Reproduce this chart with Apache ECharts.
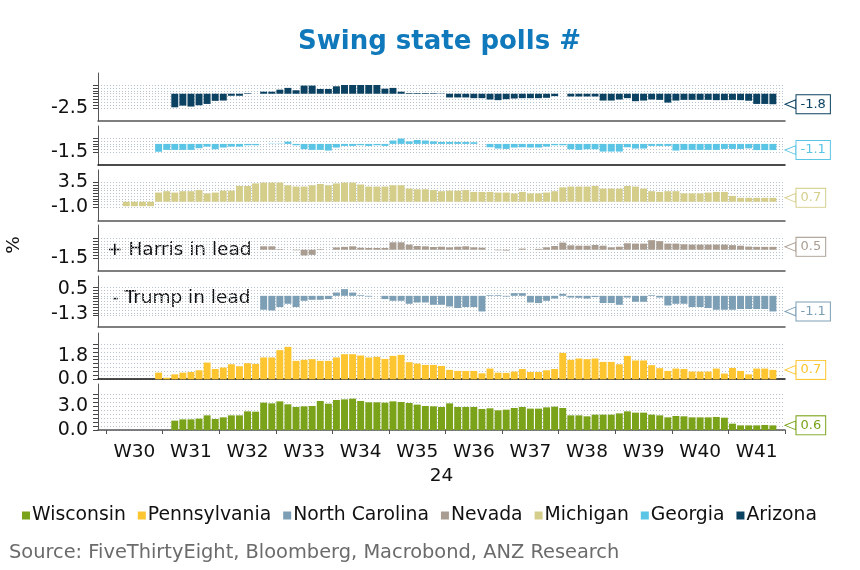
<!DOCTYPE html>
<html><head><meta charset="utf-8">
<script src="https://cdn.jsdelivr.net/npm/echarts@6/dist/echarts.min.js"></script>
<style>html,body{margin:0;padding:0;background:#fff}#c{width:860px;height:570px}</style>
</head><body><div id="c"></div>
<script>
// ---- categories: one per day, Sun 21 Jul 2024 .. Sun 13 Oct 2024 (ISO weeks 29-41)
const days = [];
for (let i = 0; i < 85; i++) {
  const d = new Date(2024, 6, 21 + i);
  days.push(d.getFullYear() + '-' + String(d.getMonth() + 1).padStart(2, '0') + '-' + String(d.getDate()).padStart(2, '0'));
}
const weekLabels = ['W30','W31','W32','W33','W34','W35','W36','W37','W38','W39','W40','W41'];
const yearLabel = '24';

// ---- series values (Harris minus Trump, %pts), one per day, null = no value
const arizona = [null,null,null,null,null,null,null,null,null,-2.33,
 -2.04,-2.2,-1.98,-1.75,-1.22,-1.17,-0.35,-0.35,0.1,0,
 0.35,0.35,0.7,1.0,0.6,1.4,1.4,0.82,0.82,1.28,
 1.55,1.55,1.5,1.5,1.5,0.87,1.0,0.35,0.12,0.12,
 0.12,0.1,0.05,-0.64,-0.64,-0.64,-0.76,-0.76,-0.99,-1.1,
 -0.93,-0.82,-0.76,-0.76,-0.76,-0.7,-0.41,0,-0.47,-0.47,
 -0.47,-0.47,-1.17,-1.17,-0.99,-0.76,-1.28,-1.17,-0.99,-1.05,
 -1.52,-1.17,-1.05,-1.05,-1.05,-1.05,-1.1,-1.1,-1.05,-1.1,
 -1.2,-1.75,-1.75,-1.8,null];
const georgia = [null,null,null,null,null,null,null,-1.4,-1.07,-1.07,
 -1.07,-1.07,-0.77,-0.48,-0.95,-0.65,-0.48,-0.48,-0.24,-0.24,
 0,0.05,0.05,0.4,-0.24,-0.95,-1.07,-1.07,-1.19,-0.65,
 -0.36,-0.36,-0.24,-0.36,-0.24,-0.36,0.6,0.95,0.45,0.7,
 0.6,0.45,0.35,0.35,0.35,0.35,0.3,0,-0.6,-0.83,
 -0.9,-0.65,-0.6,-0.65,-0.65,-0.48,-0.24,-0.24,-0.95,-1.07,
 -0.95,-0.95,-1.37,-1.37,-1.37,-0.6,-0.83,-0.83,-0.36,-0.36,
 -0.36,-1.19,-1.07,-1.07,-1.07,-1.07,-1.07,-0.9,-0.9,-0.9,
 -0.8,-1.1,-1.1,-1.1,null];
const michigan = [null,null,null,-0.8,-0.8,-0.8,-0.8,1.65,1.9,1.65,
 1.9,1.9,2.1,1.5,1.65,2.0,2.0,2.85,2.85,3.3,
 3.45,3.45,3.45,2.97,2.73,2.73,2.97,3.2,2.97,3.3,
 3.45,3.45,3.1,2.73,2.73,2.73,2.97,2.97,2.37,2.25,
 2.25,2.1,1.9,2.0,2.0,2.1,1.77,1.77,1.77,1.65,
 1.65,1.5,1.77,1.5,1.5,1.65,1.9,2.6,2.73,2.73,
 2.73,2.85,2.37,2.37,2.37,2.85,2.73,2.37,1.9,1.77,
 1.9,1.9,1.5,1.5,1.5,1.65,1.77,1.77,1.05,0.7,
 0.7,0.7,0.7,0.7,null];
const nevada = [null,null,null,null,null,null,null,null,null,null,
 null,null,null,null,null,null,null,null,null,null,
 0.6,0.6,0.1,0,-0.1,-1.0,-0.9,0.1,0,0.4,
 0.5,0.6,0.35,0.3,0.3,0.3,1.3,1.3,0.9,0.65,
 0.6,0.48,0.53,0.42,0.53,0.6,0.42,0.36,0,-0.1,
 -0.15,0,0.2,0,0.15,0.42,0.65,1.25,0.77,0.7,
 0.7,0.83,0.7,0.42,0.53,1.13,1.07,1.07,1.67,1.5,
 1.07,1.07,0.95,0.9,0.9,0.9,0.9,0.9,0.8,0.7,
 0.55,0.5,0.5,0.5,null];
const northCarolina = [null,null,null,null,null,null,null,null,null,null,
 null,null,null,null,null,null,null,null,null,null,
 -0.98,-1.03,-0.79,-0.56,-0.79,-0.35,-0.28,-0.28,-0.23,0.23,
 0.47,0.23,0.05,-0.05,0,-0.23,-0.35,-0.35,-0.56,-0.47,
 -0.47,-0.63,-0.63,-0.75,-0.86,-0.79,-0.79,-1.1,0.05,0.05,
 -0.05,0.19,0.19,-0.47,-0.51,-0.35,-0.19,0.14,-0.12,-0.14,
 -0.19,-0.09,-0.51,-0.51,-0.63,-0.12,-0.42,-0.42,0.05,-0.12,
 -0.68,-0.56,-0.56,-0.79,-0.79,-0.86,-0.98,-0.98,-0.98,-0.93,
 -0.93,-0.93,-0.93,-1.1,null];
const pennsylvania = [null,null,null,null,null,null,null,0.51,0.12,0.38,
 0.51,0.56,0.69,1.28,0.79,0.9,1.15,1.0,1.23,1.18,
 1.67,1.67,2.23,2.48,1.41,1.49,1.54,1.41,1.41,1.67,
 1.92,1.92,1.82,1.67,1.72,1.56,1.79,1.87,1.31,1.2,
 1.1,1.1,1.02,0.72,0.64,0.64,0.64,0.46,0.82,0.51,
 0.49,0.59,0.79,0.56,0.56,0.69,0.79,2.02,1.49,1.59,
 1.54,1.59,1.33,1.33,1.15,1.79,1.44,1.44,1.08,0.85,
 0.64,0.82,0.79,0.59,0.59,0.59,0.82,0.44,0.87,0.64,
 0.38,0.82,0.82,0.72,null];
const wisconsin = [null,null,null,null,null,null,null,null,null,1.17,
 1.33,1.33,1.42,1.83,1.38,1.58,1.83,1.83,2.33,2.29,
 3.42,3.33,3.58,3.21,2.88,2.96,3.0,3.63,3.29,3.75,
 3.83,3.92,3.63,3.46,3.46,3.42,3.58,3.5,3.38,3.17,
 3.0,2.96,2.88,3.33,2.88,2.88,2.88,2.63,2.71,2.46,
 2.54,2.75,2.88,2.67,2.67,2.83,2.92,2.75,1.83,1.83,
 1.71,1.92,1.92,1.92,2.08,2.33,2.17,2.17,1.92,1.83,
 1.58,1.75,1.71,1.58,1.58,1.58,1.63,1.54,0.79,0.58,
 0.58,0.58,0.63,0.58,null];

// ---- per-panel y scales (min, max, grid step) and the tick labels shown
const panelNames  = ['Arizona','Georgia','Michigan','Nevada','North Carolina','Pennsylvania','Wisconsin'];
const panelData   = [arizona, georgia, michigan, nevada, northCarolina, pennsylvania, wisconsin];
const yMin        = [-2.5, -1.5, -1.0, -1.5, -1.4, 0.0, 0.0];
const yMax        = [ 1.5,  1.0,  3.5,  2.0,  0.6, 2.7, 4.5];
const yStep       = [ 0.5,  0.5,  0.5,  0.5,  0.2, 0.3, 0.5];
const yTickLabels = [[-2.5], [-1.5], [-1.0, 3.5], [-1.5], [-1.3, 0.5], [0.0, 1.8], [0.0, 3.0]];

// ---- styling / layout (not data)
const colors = ['#0b4161','#5bc5e6','#d5ce8b','#a99d91','#7c9fb5','#fdc52f','#7aa31a'];
const outerTop = [73, 126, 170, 225, 276, 333, 384];
const outerH   = [48, 39, 51, 46, 51, 46, 46];
const innerTop = [85, 138.3, 182.3, 238.3, 287.3, 344, 394];
const innerH   = [23.3, 14, 25, 20, 28.4, 35.3, 36];
const FONT = 'DejaVu Sans';
const LEFT = 98, RIGHT = 75;

const grid = [], xAxis = [], yAxis = [], series = [];
for (let k = 0; k < 7; k++) {
  grid.push({ left: LEFT, right: RIGHT, top: innerTop[k], height: innerH[k], outerBoundsMode: 'none' });
}
for (let k = 0; k < 7; k++) {
  grid.push({ left: LEFT, right: RIGHT, top: outerTop[k], height: outerH[k], outerBoundsMode: 'none' });
}
for (let k = 0; k < 7; k++) {
  xAxis.push({ gridIndex: k, type: 'category', data: days, show: false });
  yAxis.push({
    gridIndex: k, type: 'value', min: yMin[k], max: yMax[k], interval: yStep[k],
    axisLine: { show: false },
    axisTick: { show: true, length: 5, lineStyle: { color: '#444', width: 1 } },
    axisLabel: { customValues: yTickLabels[k], formatter: v => v.toFixed(1), fontSize: 19, color: '#111', margin: 10, fontFamily: FONT },
    splitLine: { show: true, lineStyle: { type: [1, 2], color: '#b7c3cf', width: 1 } }
  });
}
for (let k = 0; k < 7; k++) {
  const bottom = k === 6;
  xAxis.push({
    gridIndex: 7 + k, type: 'category', data: days,
    axisLine: { show: true, onZero: false, lineStyle: { color: (k === 1 || k === 5) ? '#111' : '#555', width: 1.5 } },
    axisTick: bottom ? { show: true, length: 4, interval: (i) => i % 7 === 1, lineStyle: { color: '#555' } } : { show: false },
    axisLabel: bottom ? {
      show: true, interval: (i) => i % 7 === 4, margin: 13, fontSize: 18.5, color: '#111', fontFamily: FONT,
      formatter: (v, i) => weekLabels[Math.floor((i - 1) / 7)]
    } : { show: false },
    splitLine: { show: false },
    name: bottom ? yearLabel : '', nameLocation: 'middle', nameGap: 37,
    nameTextStyle: { fontSize: 18.5, color: '#111', fontFamily: FONT }
  });
  yAxis.push({
    gridIndex: 7 + k, type: 'value', min: 0, max: 1,
    axisLine: { show: true, lineStyle: { color: '#555', width: 1 } },
    axisTick: { show: false }, axisLabel: { show: false }, splitLine: { show: false }
  });
}
for (let k = 0; k < 7; k++) {
  const data = panelData[k];
  let last = null;
  for (let i = data.length - 1; i >= 0; i--) { if (data[i] !== null) { last = data[i]; break; } }
  series.push({
    name: panelNames[k], type: 'bar', xAxisIndex: k, yAxisIndex: k, data: data,
    barCategoryGap: '14%', itemStyle: { color: colors[k] },
    markPoint: {
      symbol: 'path://M10,0 L0,5 L10,10 Z', symbolSize: [11, 9], symbolOffset: [9.5, 0],
      itemStyle: { color: '#fff', borderColor: colors[k], borderWidth: 1 },
      label: {
        show: true, position: 'right', distance: 0, formatter: (p) => p.value.toFixed(1),
        color: colors[k], fontSize: 13, fontFamily: FONT, backgroundColor: '#fff',
        borderColor: colors[k], borderWidth: 1, padding: [3, 4, 2, 4]
      },
      data: [{ coord: [days[days.length - 1], last], value: last }]
    }
  });
}

const chart = echarts.init(document.getElementById('c'), null, { renderer: 'canvas' });
chart.setOption({
  animation: false,
  backgroundColor: '#fff',
  textStyle: { fontFamily: FONT },
  title: [
    { text: 'Swing state polls #', left: 293, top: 24, textStyle: { fontSize: 26, fontWeight: 'bold', color: '#0f79bb', fontFamily: FONT } },
    { text: 'Source: FiveThirtyEight, Bloomberg, Macrobond, ANZ Research', left: 4, top: 538, textStyle: { fontSize: 19.4, fontWeight: 'normal', color: '#6b6b6b', fontFamily: FONT } }
  ],
  legend: {
    data: ['Wisconsin','Pennsylvania','North Carolina','Nevada','Michigan','Georgia','Arizona'],
    left: 17, top: 501, icon: 'rect', itemWidth: 8, itemHeight: 8, itemGap: 12,
    textStyle: { fontSize: 18.8, color: '#111', fontFamily: FONT, padding: [0, 0, 0, -3] }
  },
  graphic: [
    { type: 'text', left: 107, top: 241, style: { text: '+ Harris in lead', font: '18.5px "DejaVu Sans"', fill: '#111' } },
    { type: 'text', left: 112, top: 289, style: { text: '- Trump in lead', font: '18.5px "DejaVu Sans"', fill: '#111' } },
    { type: 'text', x: 14, y: 245, rotation: Math.PI / 2, style: { text: '%', font: '18.5px "DejaVu Sans"', fill: '#111', align: 'center', verticalAlign: 'middle' } }
  ],
  grid: grid, xAxis: xAxis, yAxis: yAxis, series: series
});
</script>
</body></html>
